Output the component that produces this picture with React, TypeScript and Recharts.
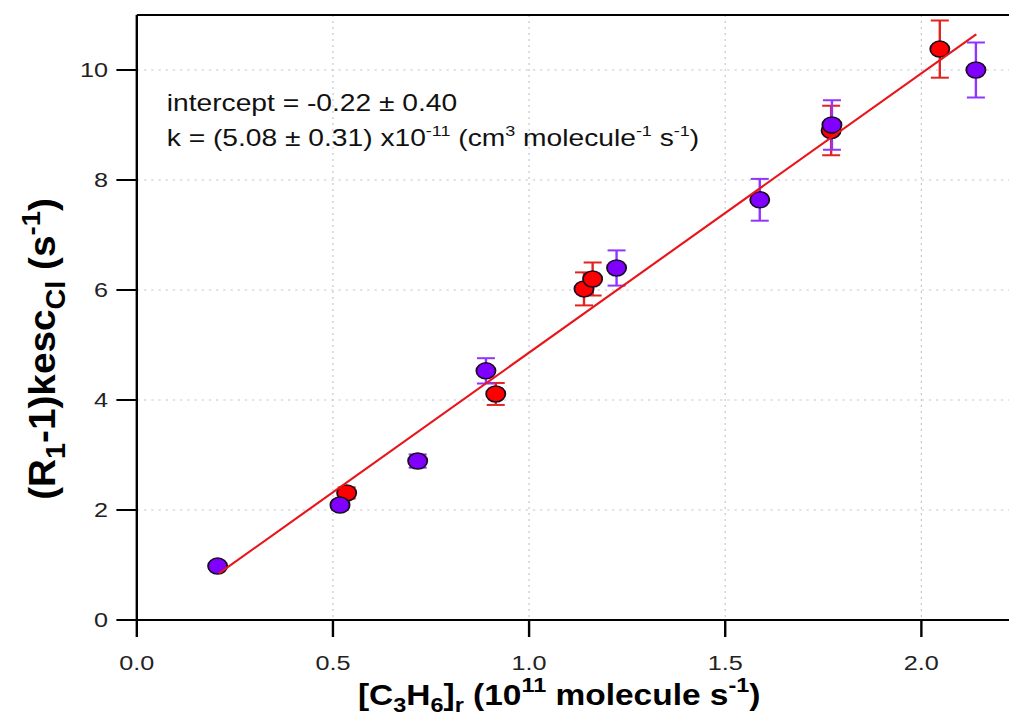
import { CartesianGrid, ErrorBar, ReferenceLine, Scatter, ScatterChart, XAxis, YAxis } from 'recharts'

// red series
const redX = [0.535, 0.915, 1.14, 1.162, 1.77, 2.047]
const redY = [2.31, 4.11, 6.02, 6.2, 8.9, 10.38]
const redErr = [0.1, 0.2, 0.3, 0.3, 0.45, 0.52]

// purple series
const purpleX = [0.206, 0.518, 0.716, 0.89, 1.223, 1.588, 1.772, 2.139]
const purpleY = [0.98, 2.09, 2.89, 4.53, 6.4, 7.64, 9.0, 10.0]
const purpleErr = [0.05, 0.08, 0.12, 0.23, 0.32, 0.38, 0.45, 0.5]

// linear fit end points
const fitX = [0.21, 2.14]
const fitY = [0.85, 10.65]

const xTicks = [0, 0.5, 1, 1.5, 2]
const yTicks = [0, 2, 4, 6, 8, 10]

const toPoints = (xs: number[], ys: number[], errs?: number[]) =>
  xs.map((x, i) => ({ x, y: ys[i], err: errs ? errs[i] : 0 }))

const redData = toPoints(redX, redY, redErr)
const purpleData = toPoints(purpleX, purpleY, purpleErr)
const fitData = toPoints(fitX, fitY)

// the reference is stretched horizontally, so draw narrow and scale x
const STRETCH = 1.2
const W = 850
const H = 716
const FONT = '"Liberation Sans", Arial, Helvetica, sans-serif'

const dot = (fill: string) => (props: any) =>
  <circle cx={props.cx} cy={props.cy} r={8} fill={fill} stroke="#1c0c22" strokeWidth={1.5} />

export default function App() {
  return (
    <div
      style={{
        position: 'absolute',
        left: 0,
        top: 0,
        width: 1009,
        height: 716,
        overflow: 'hidden',
        background: '#fff',
      }}
    >
      <div
        style={{
          position: 'relative',
          width: W,
          height: H,
          transform: `scaleX(${STRETCH})`,
          transformOrigin: '0 0',
        }}
      >
        <ScatterChart width={W} height={H} margin={{ top: 15, right: 7, bottom: 0, left: 0 }}>
          <CartesianGrid stroke="#c6c6d6" strokeDasharray="2 4" />
          <XAxis
            type="number"
            dataKey="x"
            domain={[0, 2.23]}
            allowDataOverflow
            ticks={xTicks}
            tickFormatter={(v) => Number(v).toFixed(1)}
            height={96}
            tickSize={17}
            tickMargin={18}
            axisLine={{ stroke: '#000', strokeWidth: 2 }}
            tickLine={{ stroke: '#000', strokeWidth: 2 }}
            tick={{ fill: '#222', fontSize: 21, fontFamily: FONT }}
          />
          <YAxis
            type="number"
            dataKey="y"
            domain={[0, 11]}
            allowDataOverflow
            ticks={yTicks}
            width={114}
            tickSize={17}
            tickMargin={7}
            axisLine={{ stroke: '#000', strokeWidth: 2 }}
            tickLine={{ stroke: '#000', strokeWidth: 2 }}
            tick={{ fill: '#222', fontSize: 21, fontFamily: FONT }}
          />
          <ReferenceLine y={11} stroke="#000" strokeWidth={2} />
          <Scatter data={redData} shape={dot('#ff0000')} isAnimationActive={false}>
            <ErrorBar dataKey="err" direction="y" width={7.5} stroke="#e2231f" strokeWidth={2} />
          </Scatter>
          <Scatter data={purpleData} shape={dot('#7f00ff')} isAnimationActive={false}>
            <ErrorBar dataKey="err" direction="y" width={7.5} stroke="#8f35ff" strokeWidth={2} />
          </Scatter>
          <Scatter
            data={fitData}
            line={{ stroke: '#e8161b', strokeWidth: 2 }}
            shape={() => <g />}
            isAnimationActive={false}
          />
        </ScatterChart>

        <svg
          width={W}
          height={H}
          style={{ position: 'absolute', left: 0, top: 0, pointerEvents: 'none' }}
          fontFamily={FONT}
        >
          <text x={139} y={111} fontSize={23.5} fill="#111">
            intercept = -0.22 ± 0.40
          </text>
          <text x={139} y={146} fontSize={23.5} fill="#111">
            {'k = (5.08 ± 0.31) x10'}
            <tspan fontSize={15} dy={-10}>-11</tspan>
            <tspan dy={10}>{' (cm'}</tspan>
            <tspan fontSize={15} dy={-10}>3</tspan>
            <tspan dy={10}>{' molecule'}</tspan>
            <tspan fontSize={15} dy={-10}>-1</tspan>
            <tspan dy={10}>{' s'}</tspan>
            <tspan fontSize={15} dy={-10}>-1</tspan>
            <tspan dy={10}>)</tspan>
          </text>

          <text
            transform="translate(466,705) scale(0.93,1)"
            textAnchor="middle"
            fontSize={30}
            fontWeight="bold"
            fill="#000"
          >
            [C
            <tspan fontSize={21} dy={7}>3</tspan>
            <tspan dy={-7}>H</tspan>
            <tspan fontSize={21} dy={7}>6</tspan>
            <tspan dy={-7}>]</tspan>
            <tspan fontSize={21} dy={7}>r</tspan>
            <tspan dy={-7}>{' (10'}</tspan>
            <tspan fontSize={21} dy={-13}>11</tspan>
            <tspan dy={13}>{' molecule s'}</tspan>
            <tspan fontSize={21} dy={-13}>-1</tspan>
            <tspan dy={13}>)</tspan>
          </text>

          <text
            transform="translate(46,349) rotate(-90) scale(1.25,1)"
            textAnchor="middle"
            fontSize={31}
            fontWeight="bold"
            fill="#000"
          >
            (R
            <tspan fontSize={23} dy={8}>1</tspan>
            <tspan dy={-8}>-1)kesc</tspan>
            <tspan fontSize={23} dy={8}>Cl</tspan>
            <tspan dy={-8}>{' (s'}</tspan>
            <tspan fontSize={22} dy={-13}>-1</tspan>
            <tspan dy={13}>)</tspan>
          </text>
        </svg>
      </div>
    </div>
  )
}
